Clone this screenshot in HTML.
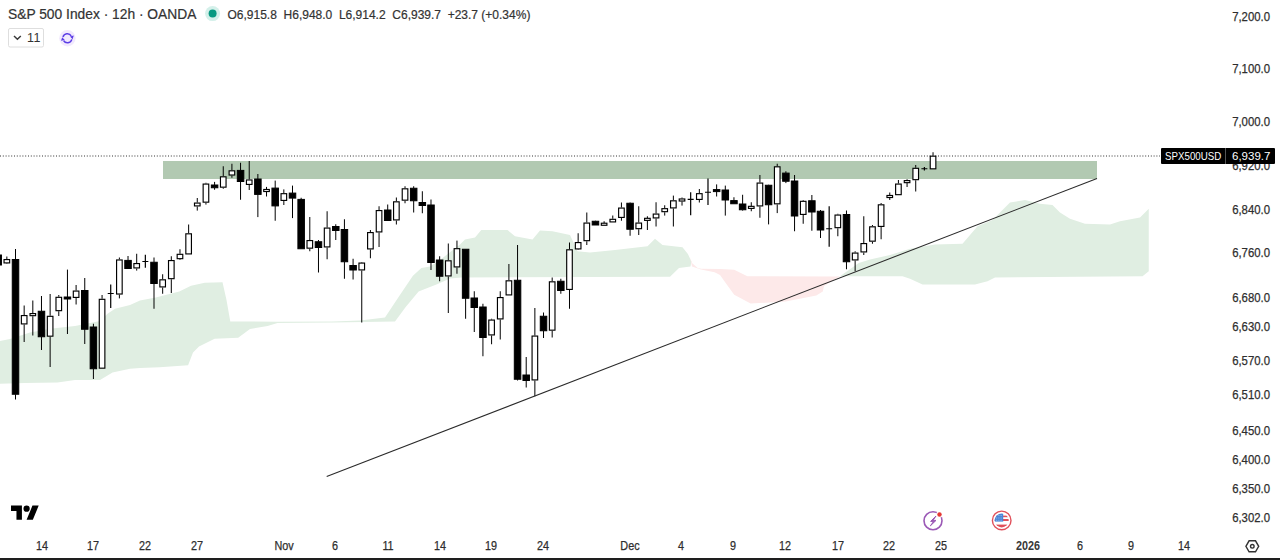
<!DOCTYPE html>
<html><head><meta charset="utf-8">
<style>
html,body{margin:0;padding:0;background:#fff;}
body{width:1280px;height:560px;position:relative;overflow:hidden;font-family:"Liberation Sans",sans-serif;color:#131722;}
svg{position:absolute;left:0;top:0;}
.t{position:absolute;white-space:nowrap;}
.pl{position:absolute;left:1210px;width:60px;text-align:right;font-size:12.6px;line-height:14px;color:#2e2e2e;transform:scaleX(0.9);transform-origin:100% 0;-webkit-text-stroke:0.25px #2e2e2e;}
.tl{position:absolute;top:538.5px;width:60px;text-align:center;font-size:12.3px;line-height:14px;color:#2e2e2e;transform:scaleX(0.88);transform-origin:50% 0;-webkit-text-stroke:0.25px #2e2e2e;}
.tl.b{font-weight:bold;-webkit-text-stroke:0;color:#383838;}
</style></head><body>
<svg width="1280" height="560" viewBox="0 0 1280 560">
<polygon points="0,341 10,339 30,332.5 50,328.75 75,326 100,321 107.5,313.75 115,308.75 130,305 140,300.4 155.7,297.5 179.3,291.6 191,285.7 204.8,282.8 222.5,282.2 226.4,299.4 230.3,321.4 277.5,321.8 332.5,321.5 360,320.5 385,317.5 398.6,297 412.9,275.7 421.4,267.9 430,266.4 440,260 460,244.4 465,239.4 475,237.5 481.25,230 507.5,230 515,236.25 532.5,239.4 540,230.6 552.5,231.25 570,235 577.5,251.25 590,252.5 615,250 647.5,246.25 655,238.75 662.5,245 682.5,247.2 687.9,254 691.4,261.6 690.5,266.5 679,268 670,276.8 461.4,277.5 450,278.6 437,284.3 430,287 418.6,291.4 405.7,307 395,321.5 332.5,322.5 277.5,323 267.6,326 250,328.9 238.2,337.7 214.6,338.7 199,346.6 193,352.5 188.1,365.2 159.6,367.2 140,368 130,368.75 112.5,372.5 100,380 75,380 57.5,382.5 25,383 0,383.75" fill="#e0eee2"/>
<polygon points="690,257 692,263 697.7,268 701.25,268.75 720,269.1 734.2,269.7 747.4,276.2 835,276.6 840,276.25 824,286 822.8,291.5 816.3,295.4 785.6,301.4 750.6,303.6 734.2,294.8 725.5,282.8 720,275.1 714.6,272.3 701,269.5 692,266.5" fill="#fde9e9"/>
<polygon points="840,276.25 858.75,263 870,259.4 890,255 910,248.75 935,244.5 962.5,243.75 970,235 977.5,226.25 992.5,220 1010,202.5 1025,200 1040,203.75 1052.5,205 1060,212.5 1070,218.75 1085,223.75 1110,224.5 1120,221.25 1140,217.5 1148.75,208.75 1148.75,271.25 1142.5,276.25 995,277.5 987.5,281.25 975,284.5 922.5,284.5 910,278.75 902.5,276.25" fill="#e0eee2"/>
<rect x="163" y="161" width="934" height="18" fill="#b2c9b2"/>
<line x1="0" y1="156" x2="1160" y2="156" stroke="#333" stroke-width="1" stroke-dasharray="1 1.8"/>
<g stroke="#000" stroke-width="1" fill="none">
<path d="M-1.81 254V255" />
<path d="M-1.81 265V266" />
<rect x="-5.06" y="255" width="6.5" height="10" fill="#000"/>
<path d="M6.85 256.5V259" />
<path d="M6.85 263.5V264" />
<rect x="4.05" y="259.57" width="5.6" height="3.35" fill="#fff" stroke="#000" stroke-width="1.15"/>
<path d="M15.51 249V259.5" />
<path d="M15.51 394.25V399.5" />
<rect x="12.26" y="259.5" width="6.5" height="134.75" fill="#000"/>
<path d="M24.16 305.5V315" />
<path d="M24.16 324.5V342" />
<rect x="21.36" y="315.57" width="5.6" height="8.35" fill="#fff" stroke="#000" stroke-width="1.15"/>
<path d="M32.82 300.5V313" />
<path d="M32.82 316.25V335.5" />
<rect x="30.02" y="313.57" width="5.6" height="2.1" fill="#fff" stroke="#000" stroke-width="1.15"/>
<path d="M41.47 296V311.25" />
<path d="M41.47 336.75V350" />
<rect x="38.22" y="311.25" width="6.5" height="25.5" fill="#000"/>
<path d="M50.13 294V315.75" />
<path d="M50.13 336.75V367" />
<rect x="47.33" y="316.32" width="5.6" height="19.85" fill="#fff" stroke="#000" stroke-width="1.15"/>
<path d="M58.79 295V296.75" />
<path d="M58.79 311.25V316" />
<rect x="55.99" y="297.32" width="5.6" height="13.35" fill="#fff" stroke="#000" stroke-width="1.15"/>
<path d="M67.44 269.6V297" />
<path d="M67.44 299V334" />
<rect x="64.19" y="297" width="6.5" height="2" fill="#000"/>
<path d="M76.1 285V290.5" />
<path d="M76.1 298V304.5" />
<rect x="73.3" y="291.07" width="5.6" height="6.35" fill="#fff" stroke="#000" stroke-width="1.15"/>
<path d="M84.75 278V290.5" />
<path d="M84.75 329.25V344" />
<rect x="81.5" y="290.5" width="6.5" height="38.75" fill="#000"/>
<path d="M93.41 323.75V327" />
<path d="M93.41 368.75V379" />
<rect x="90.16" y="327" width="6.5" height="41.75" fill="#000"/>
<path d="M102.07 295V298.75" />
<rect x="99.27" y="299.32" width="5.6" height="68.85" fill="#fff" stroke="#000" stroke-width="1.15"/>
<path d="M110.72 284.6V308M107.72 293.5H113.72" stroke="#000" stroke-width="1.2" fill="none"/>
<path d="M119.38 257.5V259.4" />
<path d="M119.38 294.6V298.4" />
<rect x="116.58" y="259.97" width="5.6" height="34.05" fill="#fff" stroke="#000" stroke-width="1.15"/>
<path d="M128.03 256V260.4" />
<rect x="124.78" y="260.4" width="6.5" height="8.1" fill="#000"/>
<path d="M136.69 253.75V263" />
<path d="M136.69 268.5V270.6" />
<rect x="133.89" y="263.57" width="5.6" height="4.35" fill="#fff" stroke="#000" stroke-width="1.15"/>
<path d="M145.35 254.75V267.75M142.35 261.5H148.35" stroke="#000" stroke-width="1.2" fill="none"/>
<path d="M154 257.5V262.25" />
<path d="M154 283.5V308.75" />
<rect x="150.75" y="262.25" width="6.5" height="21.25" fill="#000"/>
<path d="M162.66 274.25V279.25" />
<path d="M162.66 287.5V293.75" />
<rect x="159.86" y="279.82" width="5.6" height="7.1" fill="#fff" stroke="#000" stroke-width="1.15"/>
<path d="M171.31 256.25V260" />
<path d="M171.31 279.25V293" />
<rect x="168.51" y="260.57" width="5.6" height="18.1" fill="#fff" stroke="#000" stroke-width="1.15"/>
<path d="M179.97 249.25V253.75" />
<path d="M179.97 259.25V260" />
<rect x="177.17" y="254.32" width="5.6" height="4.35" fill="#fff" stroke="#000" stroke-width="1.15"/>
<path d="M188.63 224.5V233.25" />
<rect x="185.83" y="233.82" width="5.6" height="20.1" fill="#fff" stroke="#000" stroke-width="1.15"/>
<path d="M197.28 198V202.5" />
<path d="M197.28 206.5V210.6" />
<rect x="194.48" y="203.07" width="5.6" height="2.85" fill="#fff" stroke="#000" stroke-width="1.15"/>
<path d="M205.94 182.75V183.5" />
<path d="M205.94 202.75V204.6" />
<rect x="203.14" y="184.07" width="5.6" height="18.1" fill="#fff" stroke="#000" stroke-width="1.15"/>
<path d="M214.59 181.9V185" />
<path d="M214.59 187.75V189.75" />
<rect x="211.34" y="185" width="6.5" height="2.75" fill="#000"/>
<path d="M223.25 166.25V176.25" />
<path d="M223.25 187.75V188.75" />
<rect x="220.45" y="176.82" width="5.6" height="10.35" fill="#fff" stroke="#000" stroke-width="1.15"/>
<path d="M231.91 163.75V170.25" />
<path d="M231.91 175.6V177.75" />
<rect x="229.11" y="170.82" width="5.6" height="4.2" fill="#fff" stroke="#000" stroke-width="1.15"/>
<path d="M240.56 162.75V170.4" />
<path d="M240.56 181.5V199.75" />
<rect x="237.31" y="170.4" width="6.5" height="11.1" fill="#000"/>
<path d="M249.22 161V179.4" />
<path d="M249.22 185V190" />
<rect x="246.42" y="179.97" width="5.6" height="4.45" fill="#fff" stroke="#000" stroke-width="1.15"/>
<path d="M257.87 174V179" />
<path d="M257.87 194.4V217.1" />
<rect x="254.62" y="179" width="6.5" height="15.4" fill="#000"/>
<path d="M266.53 186.9V189.4" />
<path d="M266.53 191.6V196.5" />
<rect x="263.73" y="189.47" width="5.6" height="2.05" fill="#fff" stroke="#000" stroke-width="1.15"/>
<path d="M275.19 180.6V188.1" />
<path d="M275.19 205.9V220.75" />
<rect x="271.94" y="188.1" width="6.5" height="17.8" fill="#000"/>
<path d="M283.84 189.4V193.1" />
<path d="M283.84 201V205" />
<rect x="281.04" y="193.67" width="5.6" height="6.75" fill="#fff" stroke="#000" stroke-width="1.15"/>
<path d="M292.5 185.6V193.1" />
<path d="M292.5 198.1V218.1" />
<rect x="289.25" y="193.1" width="6.5" height="5" fill="#000"/>
<path d="M301.15 197.75V199.4" />
<rect x="297.9" y="199.4" width="6.5" height="49.35" fill="#000"/>
<path d="M309.81 217V240" />
<path d="M309.81 248.75V251.25" />
<rect x="307.01" y="240.57" width="5.6" height="7.6" fill="#fff" stroke="#000" stroke-width="1.15"/>
<path d="M318.47 240V241.75" />
<path d="M318.47 247.5V272.5" />
<rect x="315.22" y="241.75" width="6.5" height="5.75" fill="#000"/>
<path d="M327.12 211.25V227.5" />
<path d="M327.12 247.5V259.25" />
<rect x="324.32" y="228.07" width="5.6" height="18.85" fill="#fff" stroke="#000" stroke-width="1.15"/>
<path d="M335.78 224.25V226.5" />
<path d="M335.78 230.5V240" />
<rect x="332.53" y="226.5" width="6.5" height="4" fill="#000"/>
<path d="M344.43 219.25V229.5" />
<path d="M344.43 261.75V278.75" />
<rect x="341.18" y="229.5" width="6.5" height="32.25" fill="#000"/>
<path d="M353.09 258.75V265.5" />
<path d="M353.09 270V279.5" />
<rect x="349.84" y="265.5" width="6.5" height="4.5" fill="#000"/>
<path d="M361.75 262V262.5" />
<path d="M361.75 270.5V322.5" />
<rect x="358.95" y="263.07" width="5.6" height="6.85" fill="#fff" stroke="#000" stroke-width="1.15"/>
<path d="M370.4 230V232" />
<path d="M370.4 249.5V258.25" />
<rect x="367.6" y="232.57" width="5.6" height="16.35" fill="#fff" stroke="#000" stroke-width="1.15"/>
<path d="M379.06 206.25V210" />
<path d="M379.06 232.5V247" />
<rect x="376.26" y="210.57" width="5.6" height="21.35" fill="#fff" stroke="#000" stroke-width="1.15"/>
<path d="M387.71 204.5V210" />
<rect x="384.46" y="210" width="6.5" height="10.5" fill="#000"/>
<path d="M396.37 197.5V201.25" />
<path d="M396.37 220.5V224.5" />
<rect x="393.57" y="201.82" width="5.6" height="18.1" fill="#fff" stroke="#000" stroke-width="1.15"/>
<path d="M405.03 186.25V188.25" />
<path d="M405.03 200.75V203.25" />
<rect x="402.23" y="188.82" width="5.6" height="11.35" fill="#fff" stroke="#000" stroke-width="1.15"/>
<path d="M413.68 186.25V188.25" />
<path d="M413.68 200.75V212.5" />
<rect x="410.43" y="188.25" width="6.5" height="12.5" fill="#000"/>
<path d="M422.34 191.25V202.5" />
<path d="M422.34 205.5V213.25" />
<rect x="419.09" y="202.5" width="6.5" height="3" fill="#000"/>
<path d="M430.99 199.5V205" />
<path d="M430.99 262.5V270" />
<rect x="427.74" y="205" width="6.5" height="57.5" fill="#000"/>
<path d="M439.65 256.25V260" />
<path d="M439.65 276.25V281.25" />
<rect x="436.4" y="260" width="6.5" height="16.25" fill="#000"/>
<path d="M448.31 243.5V260.25" />
<path d="M448.31 276.5V313" />
<rect x="445.51" y="260.82" width="5.6" height="15.1" fill="#fff" stroke="#000" stroke-width="1.15"/>
<path d="M456.96 240.6V248.1" />
<path d="M456.96 267.5V273.75" />
<rect x="454.16" y="248.67" width="5.6" height="18.25" fill="#fff" stroke="#000" stroke-width="1.15"/>
<path d="M465.62 249V249.25" />
<path d="M465.62 298.25V318.75" />
<rect x="462.37" y="249.25" width="6.5" height="49" fill="#000"/>
<path d="M474.27 291.25V298" />
<path d="M474.27 307.5V332" />
<rect x="471.02" y="298" width="6.5" height="9.5" fill="#000"/>
<path d="M482.93 303.75V307" />
<path d="M482.93 337.5V356.25" />
<rect x="479.68" y="307" width="6.5" height="30.5" fill="#000"/>
<path d="M491.59 318.75V319.5" />
<path d="M491.59 335.5V344.25" />
<rect x="488.79" y="320.07" width="5.6" height="14.85" fill="#fff" stroke="#000" stroke-width="1.15"/>
<path d="M500.24 291.25V297" />
<path d="M500.24 319.5V339.5" />
<rect x="497.44" y="297.57" width="5.6" height="21.35" fill="#fff" stroke="#000" stroke-width="1.15"/>
<path d="M508.9 264V280.25" />
<rect x="506.1" y="280.82" width="5.6" height="14.1" fill="#fff" stroke="#000" stroke-width="1.15"/>
<path d="M517.55 245V280.25" />
<path d="M517.55 379.25V380.5" />
<rect x="514.3" y="280.25" width="6.5" height="99" fill="#000"/>
<path d="M526.21 357V375" />
<path d="M526.21 380.5V387.5" />
<rect x="522.96" y="375" width="6.5" height="5.5" fill="#000"/>
<path d="M534.87 308V335.5" />
<path d="M534.87 380.5V396.25" />
<rect x="532.07" y="336.07" width="5.6" height="43.85" fill="#fff" stroke="#000" stroke-width="1.15"/>
<path d="M543.52 312.5V316.25" />
<path d="M543.52 330.75V338" />
<rect x="540.27" y="316.25" width="6.5" height="14.5" fill="#000"/>
<path d="M552.18 277.5V281.25" />
<path d="M552.18 330.75V337.5" />
<rect x="549.38" y="281.82" width="5.6" height="48.35" fill="#fff" stroke="#000" stroke-width="1.15"/>
<path d="M560.83 278.75V281.25" />
<path d="M560.83 290.5V293.75" />
<rect x="557.58" y="281.25" width="6.5" height="9.25" fill="#000"/>
<path d="M569.49 242.5V249.25" />
<path d="M569.49 290V308.75" />
<rect x="566.69" y="249.82" width="5.6" height="39.6" fill="#fff" stroke="#000" stroke-width="1.15"/>
<path d="M578.15 233.25V242" />
<path d="M578.15 249.5V250" />
<rect x="575.35" y="242.57" width="5.6" height="6.35" fill="#fff" stroke="#000" stroke-width="1.15"/>
<path d="M586.8 212.5V222.5" />
<path d="M586.8 241.25V245" />
<rect x="584" y="223.07" width="5.6" height="17.6" fill="#fff" stroke="#000" stroke-width="1.15"/>
<path d="M595.46 220.75V221.25" />
<rect x="592.21" y="221.25" width="6.5" height="3.75" fill="#000"/>
<path d="M604.11 221.25V223" />
<rect x="601.31" y="223.22" width="5.6" height="2.05" fill="#fff" stroke="#000" stroke-width="1.15"/>
<path d="M612.77 215.5V218.75" />
<rect x="609.97" y="219.32" width="5.6" height="2.6" fill="#fff" stroke="#000" stroke-width="1.15"/>
<path d="M621.43 202.5V207.5" />
<path d="M621.43 218V220.75" />
<rect x="618.63" y="208.07" width="5.6" height="9.35" fill="#fff" stroke="#000" stroke-width="1.15"/>
<path d="M630.08 202.5V203.25" />
<path d="M630.08 229.25V235.75" />
<rect x="626.83" y="203.25" width="6.5" height="26" fill="#000"/>
<path d="M638.74 206.25V222.5" />
<path d="M638.74 229.25V235" />
<rect x="635.94" y="223.07" width="5.6" height="5.6" fill="#fff" stroke="#000" stroke-width="1.15"/>
<path d="M647.39 216.25V218.1" />
<path d="M647.39 220.6V230" />
<rect x="644.59" y="218.32" width="5.6" height="2.05" fill="#fff" stroke="#000" stroke-width="1.15"/>
<path d="M656.05 202.25V213.5" />
<path d="M656.05 218.5V226.5" />
<rect x="653.25" y="214.07" width="5.6" height="3.85" fill="#fff" stroke="#000" stroke-width="1.15"/>
<path d="M664.71 205.25V208.1" />
<path d="M664.71 212.25V215.6" />
<rect x="661.91" y="208.67" width="5.6" height="3" fill="#fff" stroke="#000" stroke-width="1.15"/>
<path d="M673.36 195.6V200.25" />
<path d="M673.36 208.5V226.5" />
<rect x="670.56" y="200.82" width="5.6" height="7.1" fill="#fff" stroke="#000" stroke-width="1.15"/>
<path d="M682.02 197.5V198.5" />
<path d="M682.02 201.5V205.6" />
<rect x="679.22" y="198.97" width="5.6" height="2.05" fill="#fff" stroke="#000" stroke-width="1.15"/>
<path d="M690.67 192.25V215.25M687.67 199.4H693.67" stroke="#000" stroke-width="1.2" fill="none"/>
<path d="M699.33 189V193.1" />
<path d="M699.33 200V202.5" />
<rect x="696.53" y="193.67" width="5.6" height="5.75" fill="#fff" stroke="#000" stroke-width="1.15"/>
<path d="M707.99 178.5V205M704.99 192.25H710.99" stroke="#000" stroke-width="1.2" fill="none"/>
<path d="M716.64 184.4V189.6" />
<path d="M716.64 191.6V196.5" />
<rect x="713.39" y="189.6" width="6.5" height="2" fill="#000"/>
<path d="M725.3 185.6V190" />
<path d="M725.3 200V215.6" />
<rect x="722.05" y="190" width="6.5" height="10" fill="#000"/>
<path d="M733.95 197.25V200.6" />
<rect x="730.7" y="200.6" width="6.5" height="3.15" fill="#000"/>
<path d="M742.61 194.75V204" />
<path d="M742.61 209.75V210.6" />
<rect x="739.36" y="204" width="6.5" height="5.75" fill="#000"/>
<path d="M751.27 202.25V206.25" />
<path d="M751.27 208.5V211.25" />
<rect x="748.47" y="206.35" width="5.6" height="2.05" fill="#fff" stroke="#000" stroke-width="1.15"/>
<path d="M759.92 175V182.5" />
<path d="M759.92 206.5V217.75" />
<rect x="757.12" y="183.07" width="5.6" height="22.85" fill="#fff" stroke="#000" stroke-width="1.15"/>
<path d="M768.58 184.75V185.25" />
<path d="M768.58 204.75V224.4" />
<rect x="765.33" y="185.25" width="6.5" height="19.5" fill="#000"/>
<path d="M777.23 163.75V166.25" />
<path d="M777.23 204.4V213.1" />
<rect x="774.43" y="166.82" width="5.6" height="37" fill="#fff" stroke="#000" stroke-width="1.15"/>
<path d="M785.89 171.25V173.1" />
<path d="M785.89 181.25V183.1" />
<rect x="782.64" y="173.1" width="6.5" height="8.15" fill="#000"/>
<path d="M794.55 175V181" />
<path d="M794.55 216V231.25" />
<rect x="791.3" y="181" width="6.5" height="35" fill="#000"/>
<path d="M803.2 200V200.75" />
<path d="M803.2 215V223.75" />
<rect x="800.4" y="201.32" width="5.6" height="13.1" fill="#fff" stroke="#000" stroke-width="1.15"/>
<path d="M811.86 195V200.75" />
<path d="M811.86 212V230.75" />
<rect x="808.61" y="200.75" width="6.5" height="11.25" fill="#000"/>
<path d="M820.51 210V211.25" />
<path d="M820.51 230V238" />
<rect x="817.26" y="211.25" width="6.5" height="18.75" fill="#000"/>
<path d="M829.17 206.25V246.75M826.17 228.75H832.17" stroke="#000" stroke-width="1.2" fill="none"/>
<path d="M837.83 213.75V214.5" />
<path d="M837.83 228.25V236.25" />
<rect x="835.03" y="215.07" width="5.6" height="12.6" fill="#fff" stroke="#000" stroke-width="1.15"/>
<path d="M846.48 210.5V214.5" />
<path d="M846.48 261.75V269.25" />
<rect x="843.23" y="214.5" width="6.5" height="47.25" fill="#000"/>
<path d="M855.14 251.25V252.5" />
<path d="M855.14 260.5V271.25" />
<rect x="852.34" y="253.07" width="5.6" height="6.85" fill="#fff" stroke="#000" stroke-width="1.15"/>
<path d="M863.79 216.25V243" />
<path d="M863.79 252.5V255" />
<rect x="860.99" y="243.57" width="5.6" height="8.35" fill="#fff" stroke="#000" stroke-width="1.15"/>
<path d="M872.45 225V226.25" />
<path d="M872.45 241.75V243.75" />
<rect x="869.65" y="226.82" width="5.6" height="14.35" fill="#fff" stroke="#000" stroke-width="1.15"/>
<path d="M881.11 203V204.25" />
<path d="M881.11 227V239.25" />
<rect x="878.31" y="204.82" width="5.6" height="21.6" fill="#fff" stroke="#000" stroke-width="1.15"/>
<path d="M889.76 192.5V195" />
<path d="M889.76 198V200" />
<rect x="886.96" y="195.47" width="5.6" height="2.05" fill="#fff" stroke="#000" stroke-width="1.15"/>
<path d="M898.42 180V183.5" />
<rect x="895.62" y="184.07" width="5.6" height="10.6" fill="#fff" stroke="#000" stroke-width="1.15"/>
<path d="M907.07 179.25V180.25" />
<path d="M907.07 183V187" />
<rect x="904.27" y="180.6" width="5.6" height="2.05" fill="#fff" stroke="#000" stroke-width="1.15"/>
<path d="M915.73 165V167.75" />
<path d="M915.73 180.25V191.5" />
<rect x="912.93" y="168.32" width="5.6" height="11.35" fill="#fff" stroke="#000" stroke-width="1.15"/>
<path d="M924.39 167V170.5M921.39 168.75H927.39" stroke="#000" stroke-width="1.2" fill="none"/>
<path d="M933.04 152.25V155.6" />
<rect x="930.24" y="156.17" width="5.6" height="12.65" fill="#fff" stroke="#000" stroke-width="1.15"/>
</g>
<line x1="326.7" y1="476.5" x2="1097" y2="178.4" stroke="#2a2a2a" stroke-width="1.05"/>
<!-- TV logo -->
<g transform="translate(11,502.5) scale(0.78)" fill="#000">
<path d="M14 22H7V11H0V4h14v18zM28 22h-8l7.5-18h8L28 22z"/><circle cx="20" cy="8" r="4"/>
</g>
<!-- lightning icon -->
<g>
<circle cx="933" cy="520.8" r="9" fill="none" stroke="#9b59b6" stroke-width="1.6"/>
<circle cx="939.5" cy="514.5" r="3.2" fill="#fff"/>
<circle cx="939.5" cy="514.5" r="2.2" fill="#e53935"/>
<path d="M936 516 L930.6 521.4 L933.6 521.4 L930.4 525.8 L936 520.4 L933 520.4 Z" fill="#9b59b6" stroke="#9b59b6" stroke-width="1" stroke-linejoin="round"/>
</g>
<!-- flag icon -->
<g>
<circle cx="1001.7" cy="520.4" r="9.3" fill="none" stroke="#e0505a" stroke-width="1.4"/>
<clipPath id="fc"><circle cx="1001.7" cy="520.4" r="7"/></clipPath>
<g clip-path="url(#fc)">
<rect x="994" y="513" width="16" height="16" fill="#fff"/>
<rect x="994" y="515.6" width="16" height="1.6" fill="#e0505a"/>
<rect x="994" y="519" width="16" height="2" fill="#e0505a"/>
<rect x="994" y="524.6" width="16" height="4" fill="#e0505a"/>
<rect x="994" y="513" width="9.2" height="8.6" fill="#4a86d8"/>
<path d="M996 515.5h6M996 518h6M996 520.3h6" stroke="#cfe0f7" stroke-width="0.6" stroke-dasharray="0.8 1"/>
</g>
</g>
<!-- settings hex -->
<g fill="none" stroke="#333" stroke-width="1.4">
<path d="M1245.9 546.3 L1249.1 540.8 L1255.5 540.8 L1258.7 546.3 L1255.5 551.8 L1249.1 551.8 Z"/>
<circle cx="1252.3" cy="546.3" r="1.8"/>
</g>
<rect x="0" y="558" width="1280" height="2" fill="#1e1e1e"/>
</svg>

<div class="t" style="left:8px;top:6.5px;font-size:13.8px;line-height:16px;color:#333;-webkit-text-stroke:0.2px #333;">S&amp;P 500 Index · 12h · OANDA</div>
<svg width="1280" height="60" style="position:absolute;left:0;top:0">
<circle cx="212.6" cy="13.6" r="7.5" fill="#d4f0ea"/>
<circle cx="212.6" cy="13.6" r="4" fill="#089981"/>
<rect x="8.5" y="28.5" width="35" height="18.5" rx="1.5" fill="#fff" stroke="#dedede" stroke-width="1"/>
<path d="M14 36 L17.4 39.2 L20.8 36" fill="none" stroke="#3a3a3a" stroke-width="1.5"/>
<circle cx="67.4" cy="38.2" r="8.2" fill="#f1e9fd"/>
<path d="M63.0 37.0 A4.5 4.5 0 0 1 71.2 35.9 M71.8 39.4 A4.5 4.5 0 0 1 63.6 40.6" fill="none" stroke="#5b3ee6" stroke-width="1.5"/>
<path d="M70.0 36.4 L73.8 35.6 L72.6 39.2 Z M64.8 40.0 L61.0 40.8 L62.2 37.2 Z" fill="#5b3ee6"/>
</svg>
<div class="t" style="left:27px;top:30.5px;font-size:12.5px;line-height:14px;color:#333;letter-spacing:0.4px;">11</div>
<div class="t" style="left:227.5px;top:7.7px;font-size:12px;line-height:14px;color:#333;-webkit-text-stroke:0.2px #333;">O6,915.8&nbsp; H6,948.0&nbsp; L6,914.2&nbsp; C6,939.7&nbsp; +23.7 (+0.34%)</div>

<div class="pl" style="top:9.9px">7,200.0</div>
<div class="pl" style="top:61.9px">7,100.0</div>
<div class="pl" style="top:114.9px">7,000.0</div>
<div class="pl" style="top:158.5px">6,920.0</div>
<div class="pl" style="top:202.9px">6,840.0</div>
<div class="pl" style="top:246.4px">6,760.0</div>
<div class="pl" style="top:291.4px">6,680.0</div>
<div class="pl" style="top:320px">6,630.0</div>
<div class="pl" style="top:354.4px">6,570.0</div>
<div class="pl" style="top:388px">6,510.0</div>
<div class="pl" style="top:423.6px">6,450.0</div>
<div class="pl" style="top:452.6px">6,400.0</div>
<div class="pl" style="top:481.75px">6,350.0</div>
<div class="pl" style="top:510.5px">6,302.0</div>
<div style="position:absolute;left:1161px;top:148px;width:114px;height:15.5px;background:#000;border-radius:1px;"></div>
<div style="position:absolute;left:1224.5px;top:148px;width:1px;height:15.5px;background:#555;"></div>
<div class="t" style="left:1164.5px;top:149px;font-size:11px;line-height:14px;color:#fff;transform:scaleX(0.885);transform-origin:0 0;">SPX500USD</div>
<div class="t" style="left:1232px;top:149px;font-size:11.5px;line-height:14px;color:#fff;">6,939.7</div>
<div class="tl" style="left:11.6px">14</div>
<div class="tl" style="left:63px">17</div>
<div class="tl" style="left:115px">22</div>
<div class="tl" style="left:167px">27</div>
<div class="tl" style="left:253.75px">Nov</div>
<div class="tl" style="left:305px">6</div>
<div class="tl" style="left:357.5px">11</div>
<div class="tl" style="left:409.5px">14</div>
<div class="tl" style="left:461.25px">19</div>
<div class="tl" style="left:513px">24</div>
<div class="tl" style="left:599.5px">Dec</div>
<div class="tl" style="left:651.25px">4</div>
<div class="tl" style="left:703.25px">9</div>
<div class="tl" style="left:755px">12</div>
<div class="tl" style="left:807.5px">17</div>
<div class="tl" style="left:858.75px">22</div>
<div class="tl" style="left:911.25px">25</div>
<div class="tl b" style="left:998px">2026</div>
<div class="tl" style="left:1049.5px">6</div>
<div class="tl" style="left:1101.4px">9</div>
<div class="tl" style="left:1154px">14</div>
</body></html>
